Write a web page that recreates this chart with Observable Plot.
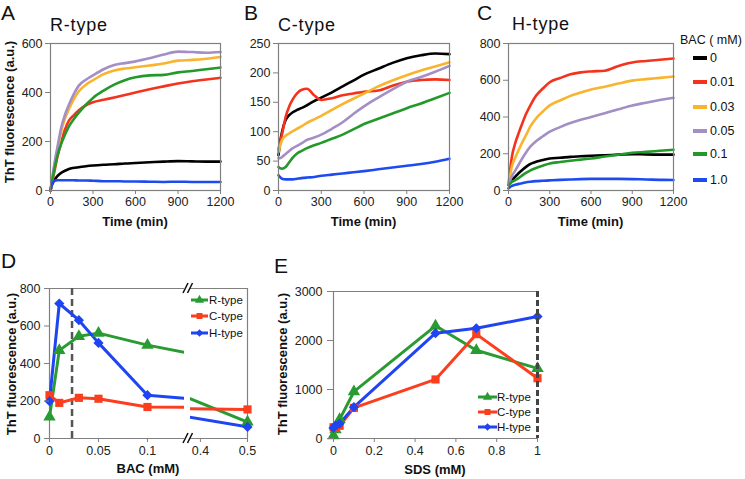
<!DOCTYPE html>
<html><head><meta charset="utf-8">
<script src="https://cdn.jsdelivr.net/npm/d3@7"></script>
<script src="https://cdn.jsdelivr.net/npm/@observablehq/plot@0.6"></script>
<style>
body{margin:0;background:#fff;}
#fig{position:relative;width:745px;height:479px;overflow:hidden;background:#fff;}
#fig svg{overflow:visible;}
</style></head>
<body><div id="fig"></div>
<script>
// ---------- DATA ----------
const T = [0,10,25,50,75,100,130,160,200,250,300,375,450,525,600,700,800,900,1000,1100,1200];
const BAC_LEVELS = ["0","0.01","0.03","0.05","0.1","1.0"];
const COLORS = ["#000000","#f5321c","#f9b42d","#a48ec6","#23992a","#1e4bf0"];

// Panel A (R-type), one array per BAC level
const A_0    = [0,22,40,60,72,80,88,92,95,99,102,105,107,110,112,115,118,120,119,118,118];
const A_001  = [0,30,70,140,195,245,285,305,328,348,360,370,380,390,400,413,425,437,446,453,460];
const A_003  = [0,35,92,170,240,290,332,368,405,432,450,475,490,498,503,510,518,530,533,538,545];
const A_005  = [0,40,100,180,255,305,350,388,428,452,470,495,512,520,527,540,555,567,565,562,565];
const A_01   = [0,35,80,145,190,225,262,288,318,350,378,408,432,450,462,470,472,482,488,495,502];
const A_10   = [0,25,38,42,42,42,42,42,41,41,40,38,38,37,37,36,35,36,35,35,35];

// Panel B (C-type)
const B_0    = [60,80,100,120,128,133,137,140,145,152,158,167,177,187,197,207,217,225,230,233,232];
const B_001  = [70,80,96,125,143,155,165,171,173,162,154,157,162,165,168,170,178,185,188,189,188];
const B_003  = [65,75,86,93,97,101,105,109,115,121,127,137,147,156,165,177,187,196,204,211,218];
const B_005  = [55,55,57,62,67,72,76,80,86,90,95,105,116,130,143,158,172,185,193,202,212];
const B_01   = [40,38,37,40,48,56,63,67,72,77,81,88,95,104,113,122,131,140,148,157,166];
const B_10   = [26,23,20,19,19,19,20,21,22,23,25,27,29,31,33,36,39,42,45,49,54];

// Panel C (H-type)
const C_0    = [30,40,56,76,95,112,130,145,156,166,174,178,183,186,189,192,195,198,196,195,195];
const C_001  = [30,100,185,260,315,365,420,465,515,555,589,612,632,643,648,652,678,697,705,712,718];
const C_003  = [30,75,132,180,222,262,305,350,392,430,463,490,515,533,550,565,582,598,606,613,620];
const C_005  = [30,50,78,110,142,175,210,240,268,295,320,345,367,385,400,420,442,463,478,492,505];
const C_01   = [30,36,46,57,68,82,97,110,122,135,147,155,162,168,174,185,195,205,210,216,222];
const C_10   = [12,18,25,31,36,40,45,48,51,53,55,58,60,62,63,63,63,62,60,58,57];

// Panel D (BAC dose response)
const D_X = [0,0.01,0.03,0.05,0.1,0.5];
const D_R = [115,470,545,562,498,88];
const D_C = [231,190,217,212,168,155];
const D_H = [199,720,631,510,231,62];
const D_DASH = [0.023];

// Panel E (SDS dose response)
const E_X = [0,0.01,0.03,0.1,0.5,0.7,1];
const E_R = [60,180,390,955,2300,1800,1430];
const E_C = [230,215,260,625,1205,2130,1230];
const E_H = [215,265,305,640,2150,2250,2490];

const TYPES = ["R-type","C-type","H-type"];
const TYPE_COLORS = ["#2a9b32","#fa3e1e","#1f45f2"];
const TYPE_SYMBOLS = ["triangle","square","diamond2"];

// ---------- DRAWING ----------
const FONT = "'Liberation Sans', Arial, Helvetica, sans-serif";
const GRAY = "#808080";
const fig = document.getElementById("fig");
const baseStyle = {fontFamily: FONT, fontSize: "12.5px", color: "#222", background: "transparent", overflow: "visible"};
const fmt = d => String(d);

function place(svg, left, top){
  svg.style.position = "absolute";
  svg.style.left = left + "px";
  svg.style.top = top + "px";
  fig.appendChild(svg);
}

function timePanel(vals, ymax, ystep, left, plotW){
  const marks = vals.map((v,i) => Plot.line(T.map((t,j)=>({t, v:v[j]})),
      {x:"t", y:"v", stroke: COLORS[i], strokeWidth: 2.6, curve: "monotone-x"}));
  const svg = Plot.plot({
    width: 50 + plotW + 20, height: 215,
    marginLeft: 50, marginRight: 20, marginTop: 43, marginBottom: 25,
    style: baseStyle,
    x: {domain: [0,1200]},
    y: {domain: [0,ymax]},
    marks: [
      ...marks,
      Plot.frame({stroke: GRAY, strokeWidth: 1.2}),
      Plot.axisX({ticks: [0,300,600,900,1200], tickFormat: fmt, tickSize: 4, tickPadding: 3, stroke: GRAY, label: null}),
      Plot.axisY({ticks: d3.range(0, ymax + 1, ystep), tickFormat: fmt, tickSize: 5, tickPadding: 3, stroke: GRAY, label: null})
    ]
  });
  place(svg, left, 0);
}

timePanel([A_0,A_001,A_003,A_005,A_01,A_10], 600, 200, 0, 170);
timePanel([B_0,B_001,B_003,B_005,B_01,B_10], 250, 50, 228, 171);
timePanel([C_0,C_001,C_003,C_005,C_01,C_10], 800, 200, 458, 165);

// Panel D: broken x axis built from two plots
const D_SERIES = [D_R, D_C, D_H];
function dMarks(xmin, xmax){
  const out = [];
  D_SERIES.forEach((s,k) => {
    const data = D_X.map((x,i)=>({x, v:s[i]}));
    out.push(Plot.line(data, {x:"x", y:"v", stroke: TYPE_COLORS[k], strokeWidth: 3, clip: true}));
  });
  D_SERIES.forEach((s,k) => {
    const data = D_X.map((x,i)=>({x, v:s[i]})).filter(d => d.x >= xmin && d.x <= xmax);
    out.push(Plot.dot(data, {x:"x", y:"v", fill: TYPE_COLORS[k], symbol: TYPE_SYMBOLS[k], r: 4.6}));
  });
  return out;
}
const dLeft = Plot.plot({
  width: 184, height: 218, marginLeft: 49, marginRight: 0, marginTop: 38, marginBottom: 30,
  style: baseStyle,
  x: {domain: [0, 0.1378]},
  y: {domain: [0, 800]},
  marks: [
    Plot.ruleX([0], {stroke: GRAY, strokeWidth: 1.2}),
    Plot.ruleY([0], {stroke: GRAY, strokeWidth: 1.2}),
    Plot.ruleY([800], {stroke: GRAY, strokeWidth: 1.2}),
    Plot.ruleX(D_DASH, {stroke: "#555", strokeWidth: 2.5, strokeDasharray: "7,4"}),
    ...dMarks(0, 0.1378),
    Plot.axisX({ticks: [0,0.05,0.1], tickFormat: fmt, tickSize: 4, tickPadding: 4, stroke: GRAY, label: null}),
    Plot.axisY({ticks: [0,200,400,600,800], tickFormat: fmt, tickSize: 5, tickPadding: 4, stroke: GRAY, label: null})
  ]
});
place(dLeft, 0, 250);
const dRight = Plot.plot({
  width: 67, height: 218, marginLeft: 0, marginRight: 10, marginTop: 38, marginBottom: 30,
  style: baseStyle,
  x: {domain: [0.379, 0.5]},
  y: {domain: [0, 800], axis: null},
  marks: [
    Plot.ruleX([0.5], {stroke: GRAY, strokeWidth: 1.2}),
    Plot.ruleY([0], {stroke: GRAY, strokeWidth: 1.2}),
    Plot.ruleY([800], {stroke: GRAY, strokeWidth: 1.2}),
    ...dMarks(0.379, 0.5),
    Plot.axisX({ticks: [0.4,0.5], tickFormat: fmt, tickSize: 4, tickPadding: 4, stroke: GRAY, label: null})
  ]
});
place(dRight, 190, 250);

// Panel E
const E_SERIES = [E_R, E_C, E_H];
const eMarks = [];
E_SERIES.forEach((s,k) => eMarks.push(Plot.line(E_X.map((x,i)=>({x, v:s[i]})), {x:"x", y:"v", stroke: TYPE_COLORS[k], strokeWidth: 3})));
E_SERIES.forEach((s,k) => eMarks.push(Plot.dot(E_X.map((x,i)=>({x, v:s[i]})), {x:"x", y:"v", fill: TYPE_COLORS[k], symbol: TYPE_SYMBOLS[k], r: 4.6})));
const ePlot = Plot.plot({
  width: 302, height: 218, marginLeft: 83, marginRight: 15, marginTop: 41, marginBottom: 30,
  style: baseStyle,
  x: {domain: [0, 1]},
  y: {domain: [0, 3000]},
  marks: [
    Plot.ruleX([0], {stroke: GRAY, strokeWidth: 1.2}),
    Plot.ruleY([0], {stroke: GRAY, strokeWidth: 1.2}),
    Plot.ruleY([3000], {stroke: GRAY, strokeWidth: 1.2}),
    ...eMarks,
    Plot.ruleX([1], {stroke: "#444", strokeWidth: 3, strokeDasharray: "6,3"}),
    Plot.axisX({ticks: [0,0.2,0.4,0.6,0.8,1], tickFormat: d => (d===0||d===1) ? String(d) : d.toFixed(1), tickSize: 4, tickPadding: 4, stroke: GRAY, label: null}),
    Plot.axisY({ticks: [0,1000,2000,3000], tickFormat: fmt, tickSize: 6, tickPadding: 5, stroke: GRAY, label: null})
  ]
});
place(ePlot, 250, 250);

// ---------- OVERLAY TEXT & LEGENDS ----------
const ov = d3.select(fig).append("svg")
  .attr("width", 745).attr("height", 479)
  .style("position","absolute").style("left","0px").style("top","0px")
  .style("font-family", FONT).style("pointer-events","none");

function txt(s, x, y, size, o = {}){
  const e = ov.append("text").attr("font-size", size).attr("fill", o.fill || "#111").text(s);
  if (o.bold) e.attr("font-weight", "bold");
  if (o.anchor) e.attr("text-anchor", o.anchor);
  if (o.ls) e.attr("letter-spacing", o.ls);
  if (o.central) e.attr("dominant-baseline", "central");
  if (o.rotate) {
    e.attr("transform", `translate(${x},${y}) rotate(-90)`).attr("text-anchor","middle").attr("dominant-baseline","central");
  } else {
    e.attr("x", x).attr("y", y);
  }
  return e;
}

// panel letters
txt("A", 1, 20, 21);
txt("B", 244, 20, 21);
txt("C", 477, 20, 21);
txt("D", 1, 268, 21);
txt("E", 274, 273, 21);
// panel titles
txt("R-type", 50, 31, 18, {ls: 0.8});
txt("C-type", 278, 31, 18, {ls: 0.8});
txt("H-type", 512, 30, 18, {ls: 0.8});
// axis labels
txt("Time (min)", 135, 226, 13, {bold: true, anchor: "middle"});
txt("Time (min)", 363.5, 226, 13, {bold: true, anchor: "middle"});
txt("Time (min)", 590.5, 226, 13, {bold: true, anchor: "middle"});
txt("ThT fluorescence (a.u.)", 9, 112, 13, {bold: true, rotate: true});
txt("ThT fluorescence (a.u.)", 11, 364, 13, {bold: true, rotate: true});
txt("ThT fluorescence (a.u.)", 282, 364, 13, {bold: true, rotate: true});
txt("BAC (mM)", 148, 473, 13, {bold: true, anchor: "middle"});
txt("SDS (mM)", 435, 474, 13, {bold: true, anchor: "middle"});

// BAC legend (panel C)
txt("BAC ( mM)", 680, 44, 12.5);
const legY = [58, 82, 107, 131, 154, 180];
BAC_LEVELS.forEach((lab, i) => {
  ov.append("line").attr("x1", 693).attr("x2", 707).attr("y1", legY[i]).attr("y2", legY[i])
    .attr("stroke", COLORS[i]).attr("stroke-width", 4);
  txt(lab, 710, legY[i], 12.5, {central: true});
});

// type legends (panels D, E)
const symMap = {triangle: d3.symbolTriangle, square: d3.symbolSquare, diamond2: d3.symbolDiamond2};
function typeLegend(x1, x2, tx, ys){
  TYPES.forEach((lab, k) => {
    ov.append("line").attr("x1", x1).attr("x2", x2).attr("y1", ys[k]).attr("y2", ys[k])
      .attr("stroke", TYPE_COLORS[k]).attr("stroke-width", 3);
    ov.append("path").attr("d", d3.symbol(symMap[TYPE_SYMBOLS[k]], 36)())
      .attr("transform", `translate(${(x1+x2)/2},${ys[k]})`).attr("fill", TYPE_COLORS[k]);
    txt(lab, tx, ys[k], 11.5, {central: true});
  });
}
typeLegend(191, 208, 209, [300, 316, 333]);
typeLegend(478, 497, 497, [397, 412, 427]);

// axis break marks in panel D
[[283, 293], [433, 443]].forEach(([y0, y1]) => {
  [0, 4.5].forEach(dx => {
    ov.append("line").attr("x1", 183 + dx).attr("y1", y1).attr("x2", 188 + dx).attr("y2", y0)
      .attr("stroke", "#111").attr("stroke-width", 1.6);
  });
});
</script>
</body></html>
